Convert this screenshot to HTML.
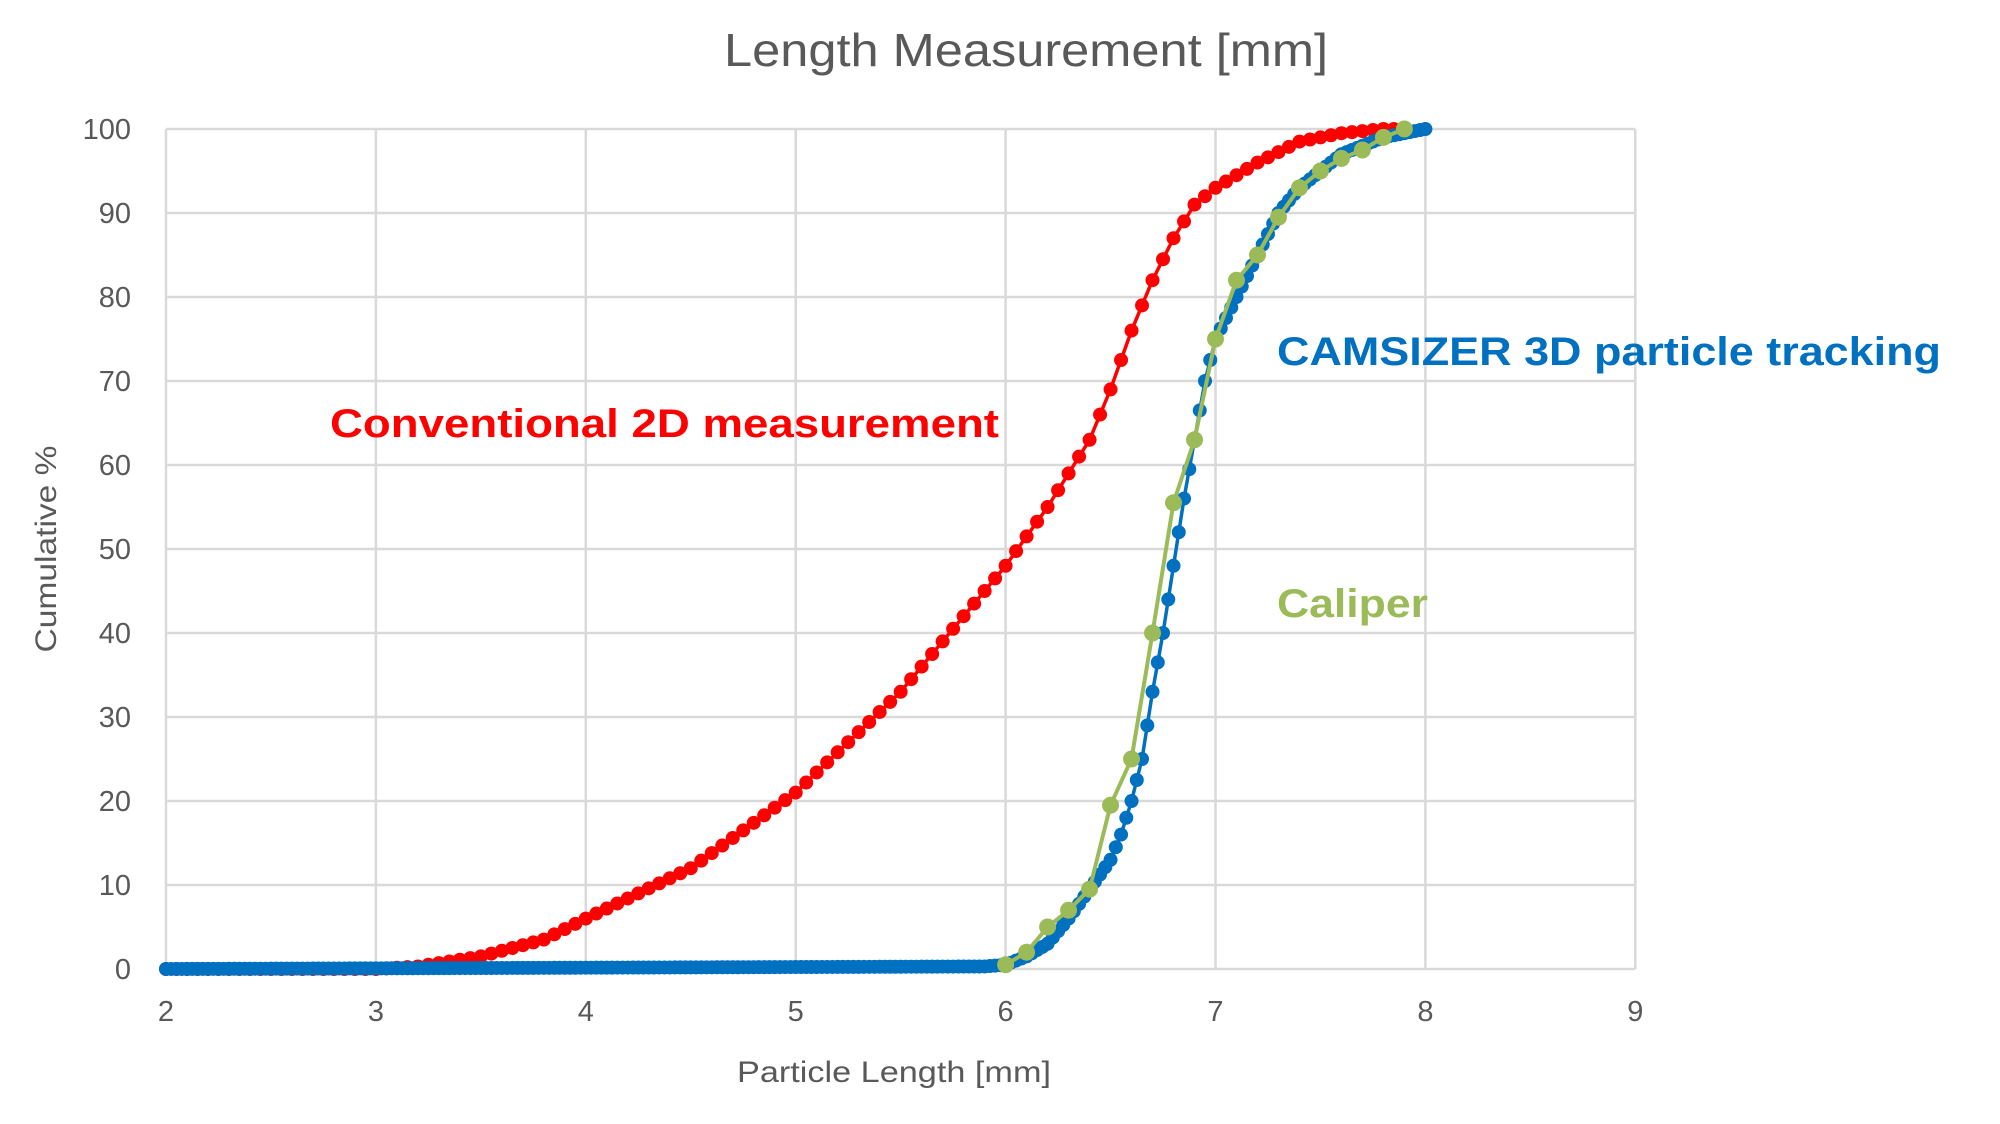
<!DOCTYPE html>
<html><head><meta charset="utf-8"><style>
html,body{margin:0;padding:0;background:#fff;}
svg{display:block}
</style></head><body>
<svg id="s" width="2000" height="1124" xmlns="http://www.w3.org/2000/svg" font-family="Liberation Sans, sans-serif">
<text x="1026" y="66" font-size="46" fill="#595959" text-anchor="middle" textLength="604" lengthAdjust="spacingAndGlyphs">Length Measurement [mm]</text>
<g id="grid"></g>
<g id="data"></g>
<text x="56" y="549" font-size="30" fill="#595959" text-anchor="middle" transform="rotate(-90 56 549)" textLength="207" lengthAdjust="spacingAndGlyphs">Cumulative %</text>
<text x="894" y="1082" font-size="30" fill="#595959" text-anchor="middle" textLength="314" lengthAdjust="spacingAndGlyphs">Particle Length [mm]</text>
<text x="330" y="437" font-size="40" font-weight="bold" fill="#ff0000" textLength="669" lengthAdjust="spacingAndGlyphs">Conventional 2D measurement</text>
<text x="1277" y="365" font-size="40" font-weight="bold" fill="#0070c0" textLength="664" lengthAdjust="spacingAndGlyphs">CAMSIZER 3D particle tracking</text>
<text x="1277" y="617" font-size="40" font-weight="bold" fill="#9bbb59" textLength="151" lengthAdjust="spacingAndGlyphs">Caliper</text>
</svg>
<script>
var NS="http://www.w3.org/2000/svg";
function X(v){return 166+(v-2)*209.9;}
function Y(v){return 969-v*8.4;}
function el(p,t,a){var e=document.createElementNS(NS,t);for(var k in a)e.setAttribute(k,a[k]);p.appendChild(e);return e;}
var g=document.getElementById('grid');
for(var i=0;i<=10;i++){var y=Y(i*10);el(g,'line',{x1:X(2),x2:X(9),y1:y,y2:y,stroke:'#d9d9d9','stroke-width':2.5});
var t=el(g,'text',{x:131,y:y+10,'font-size':29,fill:'#595959','text-anchor':'end'});t.textContent=i*10;}
for(var j=2;j<=9;j++){var x=X(j);el(g,'line',{x1:x,x2:x,y1:Y(100),y2:Y(0),stroke:'#d9d9d9','stroke-width':2.5});
var t=el(g,'text',{x:x,y:1021,'font-size':29,fill:'#595959','text-anchor':'middle'});t.textContent=j;}
function interp(pts,x){if(x<=pts[0][0])return pts[0][1];for(var i=1;i<pts.length;i++){if(x<=pts[i][0]){var a=pts[i-1],b=pts[i];return a[1]+(b[1]-a[1])*(x-a[0])/(b[0]-a[0]);}}return pts[pts.length-1][1];}
var red=[[2,0],[3,0],[3.2,0.3],[3.5,1.5],[3.8,3.5],[4,6],[4.5,12],[5,21],[5.5,33],[6,48],[6.2,55],[6.4,63],[6.5,69],[6.6,76],[6.7,82],[6.8,87],[6.9,91],[7,93],[7.2,96],[7.4,98.5],[7.6,99.5],[7.8,100],[7.9,100]];
var blue=[[2,0],[5.9,0.3],[6,0.5],[6.1,1.5],[6.2,3],[6.3,6],[6.4,9.5],[6.5,13],[6.55,16],[6.6,20],[6.65,25],[6.7,33],[6.75,40],[6.8,48],[6.85,56],[6.9,63],[6.95,70],[7,75],[7.1,80],[7.2,85],[7.3,90],[7.4,93],[7.5,95],[7.6,97],[7.7,98],[7.8,99],[7.9,99.5],[8,100]];
var green=[[6,0.5],[6.1,2],[6.2,5],[6.3,7],[6.4,9.5],[6.5,19.5],[6.6,25],[6.7,40],[6.8,55.5],[6.9,63],[7,75],[7.1,82],[7.2,85],[7.3,89.5],[7.4,93],[7.5,95],[7.6,96.5],[7.7,97.5],[7.8,99],[7.9,100]];
var d=document.getElementById('data');
function series(pts,step,x0,x1,col,r,w){var p=[];for(var x=x0;x<=x1+1e-9;x+=step)p.push([x,interp(pts,x)]);
el(d,'polyline',{points:p.map(function(q){return X(q[0]).toFixed(1)+','+Y(q[1]).toFixed(1)}).join(' '),fill:'none',stroke:col,'stroke-width':w});
p.forEach(function(q){el(d,'circle',{cx:X(q[0]),cy:Y(q[1]),r:r,fill:col});});}
series(red,0.05,2,7.9,'#ff0000',7,3.5);
series(blue,0.025,2,8,'#0070c0',7,3.5);
series(green,0.1,6,7.9,'#9bbb59',8.5,4);
</script>
</body></html>
